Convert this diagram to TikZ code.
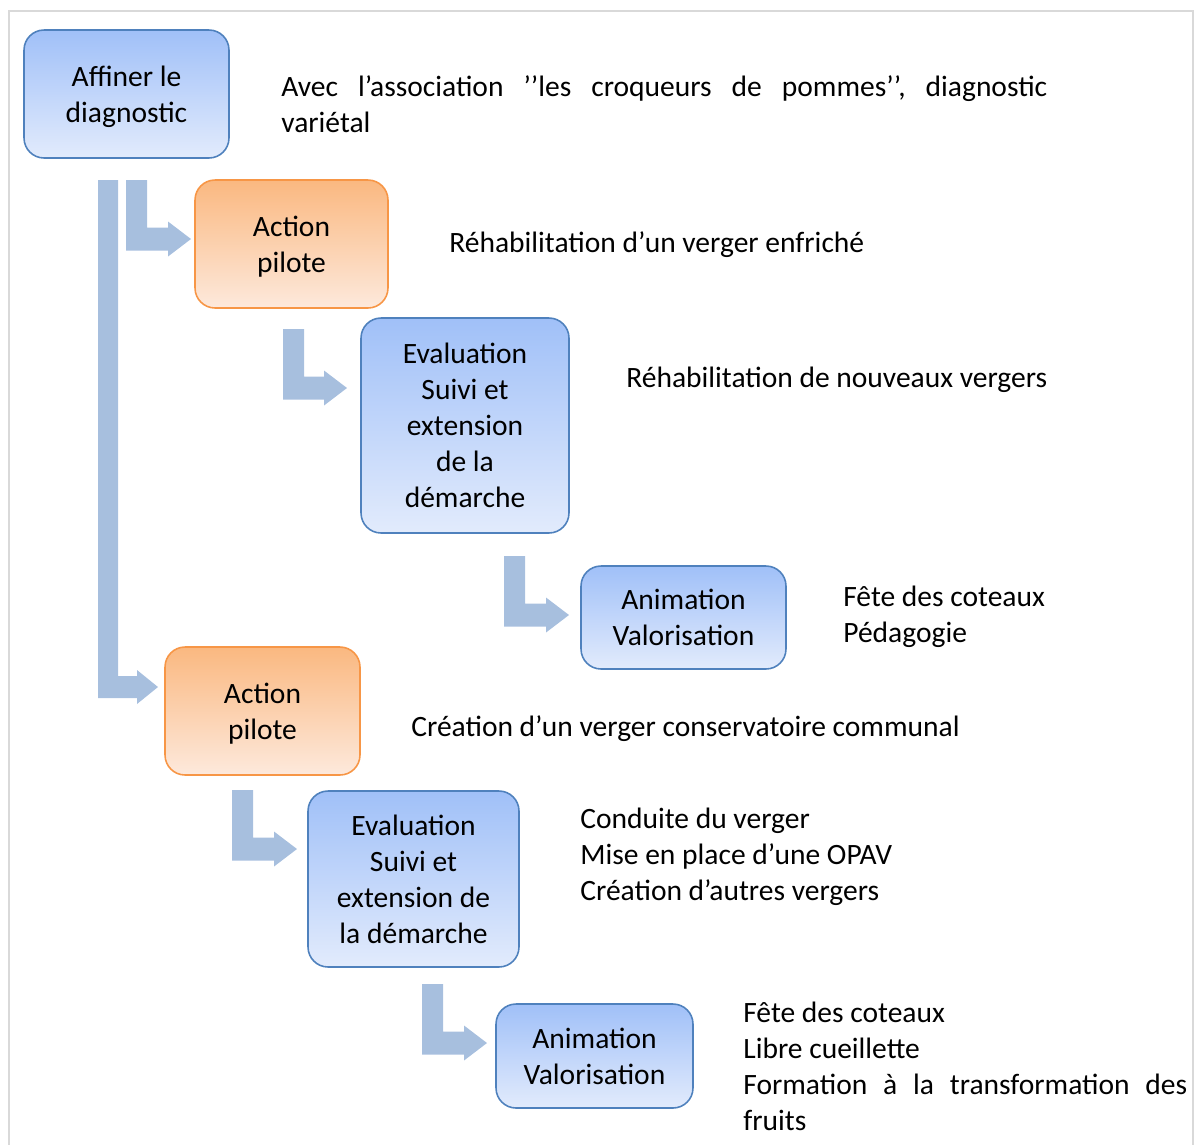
\documentclass[tikz,border=0pt]{standalone}
\usepackage{fontspec}
\setmainfont{Carlito}
\usepackage{tikz}
\usetikzlibrary{positioning}

\definecolor{boxblue}{RGB}{79,129,189}
\definecolor{bluetop}{RGB}{160,192,248}
\definecolor{bluebot}{RGB}{226,235,252}
\definecolor{boxorange}{RGB}{247,150,70}
\definecolor{orangetop}{RGB}{250,184,128}
\definecolor{orangebot}{RGB}{253,233,220}
\definecolor{arrowblue}{RGB}{167,191,222}
\definecolor{framegray}{RGB}{217,217,217}

\tikzset{
  stepfont/.style={font=\fontsize{16.8}{20.5}\selectfont},
  bluebox/.style={draw=boxblue, line width=0.9pt, rounded corners=0.4cm,
    top color=bluetop, bottom color=bluebot, align=center, stepfont, inner sep=0pt, text depth=0pt},
  orangebox/.style={draw=boxorange, line width=0.9pt, rounded corners=0.4cm,
    top color=orangetop, bottom color=orangebot, align=center, stepfont, inner sep=0pt, text depth=0pt},
  note/.style={stepfont, align=left, anchor=west, inner sep=0pt}
}

\begin{document}
\begin{tikzpicture}[x=0.02cm, y=-0.02cm]
\useasboundingbox (0,0) rectangle (1200,1144);
% frame
\draw[framegray, line width=1.1pt] (9,1160) -- (9,11) -- (1193,11) -- (1193,1160);

% boxes
\node[bluebox, minimum width=4.10cm, minimum height=2.56cm] (diag) at (126.5,94) {Affiner le\\diagnostic};
\node[orangebox, minimum width=3.86cm, minimum height=2.56cm] (pilotA) at (291.5,244) {Action\\pilote};
\node[bluebox, minimum width=4.16cm, minimum height=4.30cm] (evalA) at (465,425.5) {Evaluation\\Suivi et\\extension\\de la\\démarche};
\node[bluebox, minimum width=4.10cm, minimum height=2.06cm] (animA) at (683.5,617.5) {Animation\\Valorisation};
\node[orangebox, minimum width=3.90cm, minimum height=2.56cm] (pilotB) at (262.5,711) {Action\\pilote};
\node[bluebox, minimum width=4.22cm, minimum height=3.52cm] (evalB) at (413.5,879) {Evaluation\\Suivi et\\extension de\\la démarche};
\node[bluebox, minimum width=3.94cm, minimum height=2.08cm] (animB) at (594.5,1056) {Animation\\Valorisation};

% bent arrows
\foreach \xl/\yt/\xt/\yc in {126/180/191/239, 283/329/347/388, 504/556/569/615,
    232/790/297/849, 422/984/487/1043}
  \fill[arrowblue] (\xl,\yt) -- ++(21,0) |- (\xt-23,\yc-11.5) -- (\xt-23,\yc-17.5)
    -- (\xt,\yc) -- (\xt-23,\yc+17.5) -- (\xt-23,\yc+11.5) -- (\xl,\yc+11.5) -- cycle;
\fill[arrowblue] (98,180) -- (118,180) |- (137,676) -- (137,670) -- (158,687)
  -- (137,704) -- (137,698) -- (98,698) -- cycle;

% notes
\node[note, text width=15.32cm, align=justify] (n1) at (281,104)
  {Avec\ \ l’association\ \ ’’les\ \ croqueurs\ \ de\ \ pommes’’,\ \ diagnostic\linebreak variétal};
\node[note] (n2) at (449,245) {Réhabilitation d’un verger enfriché};
\node[note] (n3) at (626,380) {Réhabilitation de nouveaux vergers};
\node[note] (n4) at (843,617) {Fête des coteaux\\Pédagogie};
\node[note] (n5) at (411,729) {Création d’un verger conservatoire communal};
\node[note] (n6) at (580,857) {Conduite du verger\\Mise en place d’une OPAV\\Création d’autres vergers};
\node[note, text width=8.88cm, align=justify] (n7) at (743,1066.5)
  {Fête des coteaux\\Libre cueillette\\Formation à la transformation des\linebreak fruits};
\end{tikzpicture}
\end{document}
